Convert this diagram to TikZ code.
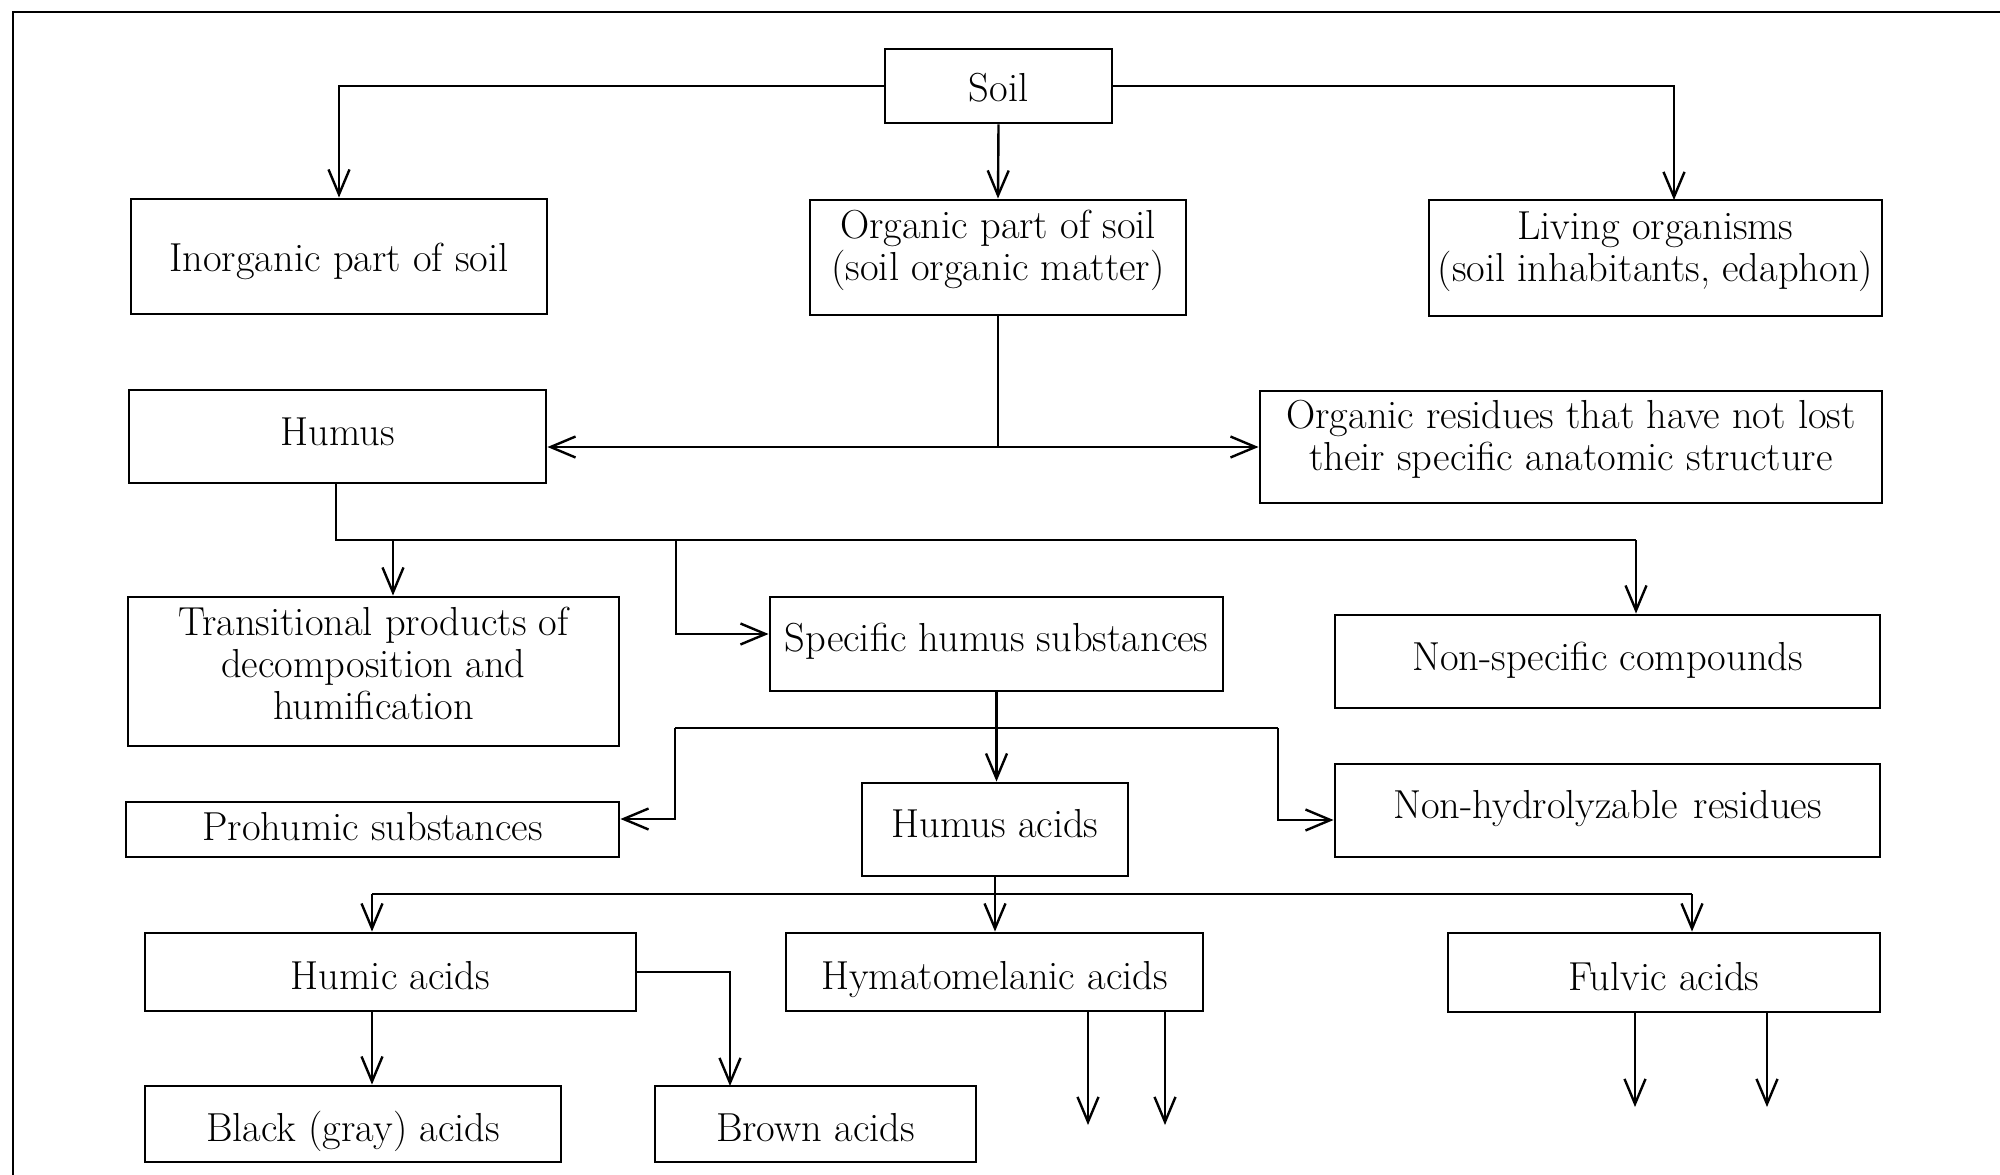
\documentclass[tikz,border=0pt]{standalone}
\usetikzlibrary{arrows.meta}
% text with controlled vertical placement: #1 = strut height (pt), #2 = upward shift of text centre (pt)
\newcommand\tx[3]{\rule{0pt}{#1pt}#3\rule[\dimexpr -#1pt + 27.3pt - #2pt*2\relax]{0pt}{0.01pt}}
\begin{document}
\begin{tikzpicture}[x=1pt,y=-1pt,
  box/.style={draw, line width=2.9pt, inner sep=0pt, align=center, font=\fontsize{40.5}{42}\selectfont},
  conn/.style={line width=2.4pt},
  arr/.style={conn, -{Straight Barb[length=25pt,width=21pt]}}]
\useasboundingbox (0,0) rectangle (2000,1175);
\draw[line width=2.8pt] (2000,12) -- (13,12) -- (13,1175);

\node[box, minimum width=227pt, minimum height=74pt] (soil) at (998.5,86) {\tx{42}{-2}{Soil}};
\node[box, minimum width=416pt, minimum height=115pt] (inorg) at (339,256.5) {\tx{40}{-1}{Inorganic part of soil}};
\node[box, minimum width=376pt, minimum height=115pt] (org) at (998,257.5) {\tx{31}{11.5}{Organic part of soil\\(soil organic matter)}};
\node[box, minimum width=453pt, minimum height=116pt] (liv) at (1655.5,258) {\tx{31}{11}{Living organisms\\(soil inhabitants, edaphon)}};
\node[box, minimum width=417pt, minimum height=93pt] (humus) at (337.5,436.5) {\tx{31}{5}{Humus}};
\node[box, minimum width=622pt, minimum height=112pt] (resid) at (1571,447) {\tx{31}{11}{Organic residues that have not lost\\their specific anatomic structure}};
\node[box, minimum width=491pt, minimum height=149pt] (trans) at (373.5,671.5) {\tx{31}{8}{Transitional products of\\decomposition and\\humification}};
\node[box, minimum width=453pt, minimum height=94pt] (spec) at (996.5,644) {\tx{31}{6}{Specific humus substances}};
\node[box, minimum width=545pt, minimum height=93pt] (nonspec) at (1607.5,661.5) {\tx{31}{4.5}{Non-specific compounds}};
\node[box, minimum width=493pt, minimum height=55pt] (proh) at (372.5,829.5) {\tx{33}{2.5}{Prohumic substances}};
\node[box, minimum width=266pt, minimum height=93pt] (hacid) at (995,829.5) {\tx{31}{6}{Humus acids}};
\node[box, minimum width=545pt, minimum height=93pt] (nonhyd) at (1607.5,810.5) {\tx{31}{6}{Non-hydrolyzable \hspace{4pt}residues}};
\node[box, minimum width=491pt, minimum height=78pt] (humic) at (390.5,972) {\tx{46}{-4}{Humic acids}};
\node[box, minimum width=417pt, minimum height=78pt] (hymato) at (994.5,972) {\tx{46}{-4}{Hymatomelanic acids}};
\node[box, minimum width=432pt, minimum height=79pt] (fulvic) at (1664,972.5) {\tx{47}{-4.5}{Fulvic acids}};
\node[box, minimum width=416pt, minimum height=76pt] (black) at (353,1124) {\tx{46}{-4}{Black (gray) acids}};
\node[box, minimum width=321pt, minimum height=76pt] (brown) at (815.5,1124) {\tx{46}{-4}{Brown acids}};

% Soil
\draw[arr] (soil.west) -| (inorg.north);
\draw[arr] (soil.south) -- (org.north);
\coordinate (livtop) at (1674,200);
\draw[arr] (soil.east) -| (livtop);
% Organic part
\coordinate (j1) at (998,447);
\draw[conn] (org.south) -- (j1);
\draw[arr] (j1) -- (j1 -| humus.east);
\draw[arr] (j1) -- (j1 -| resid.west);
% Humus
\coordinate (hl) at (336,540);
\coordinate (hr) at (1636,540);
\draw[conn] (humus.south -| hl) -- (hl) -- (hr);
\draw[arr] (hr) -- (hr |- nonspec.north);
\coordinate (b1) at (393,540);
\draw[arr] (b1) -- (b1 |- trans.north);
\coordinate (b2) at (676,540);
\coordinate (b2e) at (676,634);
\draw[arr] (b2) -- (b2e) -- (b2e -| spec.west);
% Specific humus substances
\coordinate (s1) at (675,728);
\coordinate (s2) at (1278,728);
\draw[arr] (spec.south) -- (spec.south |- hacid.north);
\draw[conn] (s1) -- (s2);
\coordinate (s1b) at (675,819);
\draw[arr] (s1) -- (s1b) -- (s1b -| proh.east);
\coordinate (s2b) at (1278,820);
\draw[arr] (s2) -- (s2b) -- (s2b -| nonhyd.west);
% Humus acids
\coordinate (aL) at (372,894);
\coordinate (aR) at (1692,894);
\coordinate (aM) at (hacid.south |- aL);
\draw[conn] (hacid.south) -- (aM);
\draw[conn] (aL) -- (aR);
\draw[arr] (aL) -- (aL |- humic.north);
\draw[arr] (aM) -- (aM |- hymato.north);
\draw[arr] (aR) -- (aR |- fulvic.north);
% Humic acids
\draw[arr] (humic.south -| aL) -- (aL |- black.north);
\coordinate (brtop) at (730,1086);
\draw[arr] (humic.east) -| (brtop);
% open ends
\coordinate (h1) at (1088,1125);
\coordinate (h2) at (1165,1125);
\coordinate (f1) at (1635,1107);
\coordinate (f2) at (1767,1107);
\draw[arr] (hymato.south -| h1) -- (h1);
\draw[arr] (hymato.south -| h2) -- (h2);
\draw[arr] (fulvic.south -| f1) -- (f1);
\draw[arr] (fulvic.south -| f2) -- (f2);
\end{tikzpicture}
\end{document}
